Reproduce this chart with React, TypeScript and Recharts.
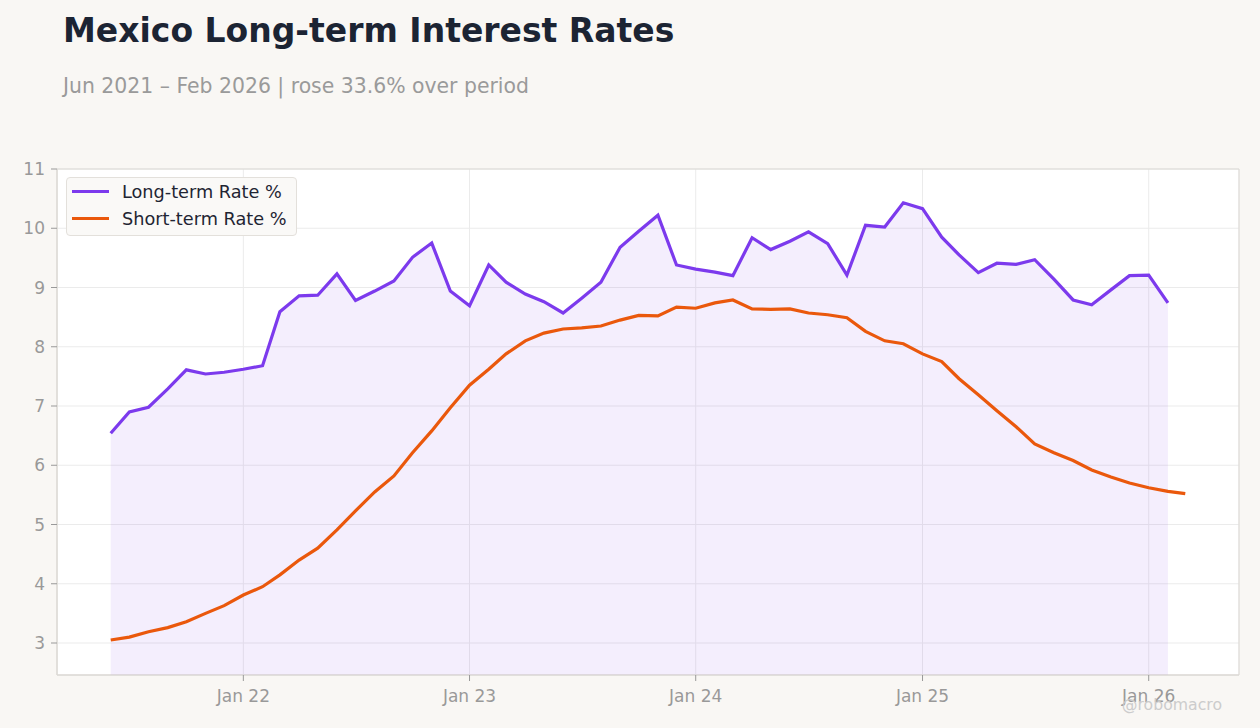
import React from 'react';
import {
  ComposedChart,
  Line,
  Area,
  XAxis,
  YAxis,
  CartesianGrid,
  Legend,
  ReferenceArea,
} from 'recharts';

const months = [
  '2021-06', '2021-07', '2021-08', '2021-09', '2021-10', '2021-11', '2021-12',
  '2022-01', '2022-02', '2022-03', '2022-04', '2022-05', '2022-06', '2022-07', '2022-08', '2022-09', '2022-10', '2022-11', '2022-12',
  '2023-01', '2023-02', '2023-03', '2023-04', '2023-05', '2023-06', '2023-07', '2023-08', '2023-09', '2023-10', '2023-11', '2023-12',
  '2024-01', '2024-02', '2024-03', '2024-04', '2024-05', '2024-06', '2024-07', '2024-08', '2024-09', '2024-10', '2024-11', '2024-12',
  '2025-01', '2025-02', '2025-03', '2025-04', '2025-05', '2025-06', '2025-07', '2025-08', '2025-09', '2025-10', '2025-11', '2025-12',
  '2026-01', '2026-02', '2026-03',
];

const longTermRate: (number | null)[] = [
  6.54, 6.90, 6.98, 7.29, 7.61, 7.54, 7.57,
  7.62, 7.68, 8.59, 8.86, 8.87, 9.23, 8.78, 8.94, 9.11, 9.51, 9.75, 8.94,
  8.69, 9.38, 9.09, 8.89, 8.76, 8.57, 8.82, 9.09, 9.68, 9.95, 10.22, 9.38,
  9.31, 9.26, 9.20, 9.84, 9.64, 9.78, 9.94, 9.74, 9.21, 10.05, 10.02, 10.43,
  10.33, 9.85, 9.55, 9.25, 9.41, 9.39, 9.47, 9.14, 8.79, 8.71, 8.96, 9.20,
  9.21, 8.74, null,
];

const shortTermRate: number[] = [
  3.05, 3.10, 3.19, 3.26, 3.36, 3.50, 3.63,
  3.81, 3.95, 4.15, 4.40, 4.60, 4.91, 5.23, 5.55, 5.82, 6.21, 6.58, 6.97,
  7.35, 7.62, 7.88, 8.10, 8.23, 8.30, 8.32, 8.35, 8.45, 8.53, 8.52, 8.67,
  8.65, 8.74, 8.79, 8.64, 8.63, 8.64, 8.57, 8.54, 8.49, 8.26, 8.10, 8.05,
  7.88, 7.75, 7.46, 7.19, 6.92, 6.65, 6.36, 6.21, 6.08, 5.92, 5.80, 5.70,
  5.62, 5.56, 5.52,
];

const yTicks = [3, 4, 5, 6, 7, 8, 9, 10, 11];
const xTickYears = [2022, 2023, 2024, 2025, 2026];

const seriesNames = { long: 'Long-term Rate %', short: 'Short-term Rate %' };
const PURPLE = '#7c3aed';
const ORANGE = '#ea580c';
const FONT = '"DejaVu Sans", sans-serif';

const toTime = (m: string) => {
  const [y, mo] = m.split('-').map(Number);
  return Date.UTC(y, mo - 1, 1);
};

const data = months.map((m, i) => ({
  t: toTime(m),
  long: longTermRate[i],
  short: shortTermRate[i],
}));

const tMin = data[0].t;
const tMax = data[data.length - 1].t;
const pad = (tMax - tMin) * 0.05;
const xDomain: [number, number] = [tMin - pad, tMax + pad];
const yDomain: [number, number] = [2.46, 11];
const xTicks = xTickYears.map((y) => Date.UTC(y, 0, 1));

const fmtX = (v: number) => {
  const d = new Date(v);
  return 'Jan ' + String(d.getUTCFullYear()).slice(2);
};

const renderLegend = (props: any) => {
  const items = (props.payload || []).filter((p: any) => p.type !== 'none');
  return (
    <div
      style={{
        background: '#faf9f7',
        border: '1px solid #e3e0db',
        borderRadius: 4,
        padding: '0 10px 3px 5px',
        fontFamily: FONT,
        fontSize: 17.7,
        color: '#1f2533',
        whiteSpace: 'nowrap',
      }}
    >
      {items.map((p: any) => (
        <div key={p.value} style={{ display: 'flex', alignItems: 'center', height: 27 }}>
          <div style={{ width: 37, height: 3, background: p.color, marginRight: 13 }} />
          <span>{p.value}</span>
        </div>
      ))}
    </div>
  );
};

export default function App() {
  return (
    <div
      style={{
        position: 'absolute',
        left: 0,
        top: 0,
        width: 1260,
        height: 728,
        background: '#f9f7f4',
        overflow: 'hidden',
        fontFamily: FONT,
      }}
    >
      <div
        style={{
          position: 'absolute',
          left: 63,
          top: 14,
          fontSize: 33,
          lineHeight: 1,
          fontWeight: 'bold',
          color: '#1c2433',
          whiteSpace: 'nowrap',
        }}
      >
        Mexico Long-term Interest Rates
      </div>
      <div
        style={{
          position: 'absolute',
          left: 63,
          top: 76,
          fontSize: 20.4,
          lineHeight: 1,
          color: '#9a9a9a',
          whiteSpace: 'nowrap',
        }}
      >
        Jun 2021 – Feb 2026 | rose 33.6% over period
      </div>
      <div style={{ position: 'absolute', left: 0, top: 0 }}>
        <ComposedChart
          width={1260}
          height={728}
          data={data}
          margin={{ top: 169, right: 21, bottom: 0, left: 0 }}
        >
          <CartesianGrid stroke="#ebebeb" fill="#ffffff" fillOpacity={1} />
          <XAxis
            dataKey="t"
            type="number"
            scale="time"
            domain={xDomain}
            ticks={xTicks}
            tickFormatter={fmtX}
            height={53}
            axisLine={{ stroke: '#dcd9d4' }}
            tickLine={{ stroke: '#999' }}
            tickSize={6}
            tickMargin={9}
            tick={{ fill: '#999', fontSize: 17, fontFamily: FONT }}
            allowDataOverflow
          />
          <YAxis
            type="number"
            domain={yDomain}
            ticks={yTicks}
            width={57}
            axisLine={{ stroke: '#dcd9d4' }}
            tickLine={{ stroke: '#999' }}
            tickSize={6}
            tickMargin={6}
            tick={{ fill: '#999', fontSize: 17, fontFamily: FONT }}
            allowDataOverflow
          />
          <ReferenceArea
            x1={xDomain[0]}
            x2={xDomain[1]}
            y1={yDomain[0]}
            y2={yDomain[1]}
            fill="none"
            stroke="#dcd9d4"
            strokeWidth={1}
            ifOverflow="visible"
          />
          <Legend
            content={renderLegend}
            verticalAlign="middle"
            align="center"
            layout="vertical"
            wrapperStyle={{ position: 'absolute', left: 66, top: 177, width: 'auto', height: 'auto' }}
          />
          <Area
            type="linear"
            dataKey="long"
            stroke="none"
            fill={PURPLE}
            fillOpacity={0.085}
            legendType="none"
            isAnimationActive={false}
            dot={false}
            activeDot={false}
          />
          <Line
            type="linear"
            dataKey="long"
            name={seriesNames.long}
            stroke={PURPLE}
            strokeWidth={3.2}
            dot={false}
            activeDot={false}
            isAnimationActive={false}
          />
          <Line
            type="linear"
            dataKey="short"
            name={seriesNames.short}
            stroke={ORANGE}
            strokeWidth={3.2}
            dot={false}
            activeDot={false}
            isAnimationActive={false}
          />
        </ComposedChart>
      </div>
      <div
        style={{
          position: 'absolute',
          right: 38,
          top: 697,
          fontSize: 15.7,
          lineHeight: 1,
          color: '#cccccc',
          whiteSpace: 'nowrap',
        }}
      >
        @robomacro
      </div>
    </div>
  );
}
